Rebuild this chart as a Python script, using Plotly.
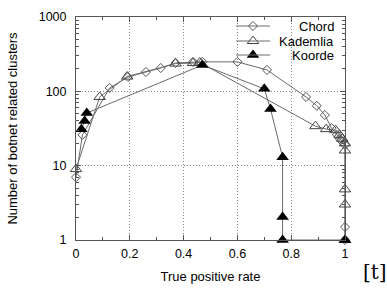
import plotly.graph_objects as go

# Data
chord_x = [0.0, 0.024, 0.125, 0.193, 0.26, 0.315, 0.37, 0.435, 0.47, 0.60, 0.71, 0.855, 0.895, 0.925, 0.95, 0.97, 0.98, 0.99, 1.0, 1.0, 1.0]
chord_y = [7, 26, 111, 156, 182, 206, 241, 249, 249, 249, 194, 84, 64, 48, 32, 26, 23, 21, 19, 1.5, 1]

kad_x = [0.0, 0.088, 0.19, 0.37, 0.435, 0.46, 0.89, 0.93, 0.965, 0.98, 0.99, 1.0, 1.0, 1.0, 1.0, 1.0]
kad_y = [9, 84, 158, 236, 240, 245, 34, 31, 30, 26, 23, 20, 16, 4.8, 3, 1]

koo_x = [0.02, 0.032, 0.04, 0.47, 0.70, 0.723, 0.768, 0.768, 0.768, 1.0]
koo_y = [31, 40, 51, 226, 108, 58, 13, 2.04, 1, 1]

series_names = ["Chord", "Kademlia", "Koorde"]

x_ticks = [0, 0.2, 0.4, 0.6, 0.8, 1]
x_tick_labels = ["0", "0.2", "0.4", "0.6", "0.8", "1"]
y_ticks = [1, 10, 100, 1000]
y_tick_labels = ["1", "10", "100", "1000"]

LINE = "#6a6a6a"
FONT = "Liberation Sans, Arial, sans-serif"

styles = [
    dict(symbol="diamond-open", size=7, color="#555", line=dict(width=1)),
    dict(symbol="triangle-up-open", size=10, color="#444", line=dict(width=1)),
    dict(symbol="triangle-up", size=11, color="black", line=dict(width=0)),
]

fig = go.Figure()
for xs, ys, name, mk in zip([chord_x, kad_x, koo_x], [chord_y, kad_y, koo_y], series_names, styles):
    fig.add_trace(go.Scatter(
        x=xs, y=ys, name=name, mode="lines+markers", showlegend=False,
        line=dict(color=LINE, width=1), marker=mk, cliponaxis=False,
    ))

# Hand-drawn legend on an overlay axis measured in pixels of the plot area
leg_rows = [26, 41, 55]
leg_x0, leg_x1, leg_text_x = 236, 270, 336
annotations = []
shapes = []
for row, name, mk in zip(leg_rows, series_names, styles):
    shapes.append(dict(type="line", xref="x2", yref="y2", x0=leg_x0, x1=leg_x1, y0=row, y1=row,
                       line=dict(color=LINE, width=1)))
    fig.add_trace(go.Scatter(
        x=[(leg_x0 + leg_x1) / 2], y=[row], mode="markers", marker=mk, showlegend=False,
        xaxis="x2", yaxis="y2", hoverinfo="skip", cliponaxis=False,
    ))
    annotations.append(dict(text=name, x=leg_text_x, y=row, xref="x2", yref="y2", showarrow=False,
                            xanchor="right", yanchor="middle",
                            font=dict(family=FONT, size=13, color="black")))

annotations.append(dict(text="[t]", x=1.1115, y=-0.1435, xref="paper", yref="paper", showarrow=False,
                        xanchor="center", yanchor="middle",
                        font=dict(family="DejaVu Serif, Liberation Serif, serif", size=20, color="black")))

GRID = dict(showgrid=True, gridcolor="#888", griddash="1px,2px", gridwidth=1)

fig.update_layout(
    width=387, height=289,
    margin=dict(l=76, r=42, t=17, b=49, autoexpand=False),
    paper_bgcolor="white", plot_bgcolor="white",
    font=dict(family=FONT, size=12, color="black"),
    showlegend=False,
    annotations=annotations,
    shapes=shapes,
    xaxis=dict(
        range=[0, 1], tickvals=x_ticks, ticktext=x_tick_labels,
        showline=True, linecolor="#555", linewidth=1, mirror="allticks",
        ticks="inside", ticklen=5, tickcolor="#555",
        zeroline=False, automargin=False,
        minor=dict(ticks="inside", ticklen=3, tickcolor="#555", dtick=0.1, showgrid=False),
        title=dict(text="True positive rate", font=dict(family=FONT, size=13), standoff=11),
        tickfont=dict(family=FONT, size=12.5),
        ticklabelstandoff=2,
        **GRID,
    ),
    yaxis=dict(
        type="log", range=[0, 3], tickvals=y_ticks, ticktext=y_tick_labels,
        showline=True, linecolor="#555", linewidth=1, mirror="allticks",
        ticks="inside", ticklen=5, tickcolor="#555",
        zeroline=False, automargin=False,
        minor=dict(ticks="inside", ticklen=3, tickcolor="#555", dtick="D1", showgrid=False),
        title=dict(text="Number of botnet related clusters", font=dict(family=FONT, size=13), standoff=18),
        tickfont=dict(family=FONT, size=12.5),
        ticklabelstandoff=6,
        **GRID,
    ),
    xaxis2=dict(overlaying="x", anchor="y2", range=[76, 345], visible=False, fixedrange=True),
    yaxis2=dict(overlaying="y", anchor="x2", range=[240, 17], visible=False, fixedrange=True),
)

fig.write_html("out.html", config={"displayModeBar": False},
               post_script="document.body.style.margin='0';document.body.style.overflow='hidden';")
